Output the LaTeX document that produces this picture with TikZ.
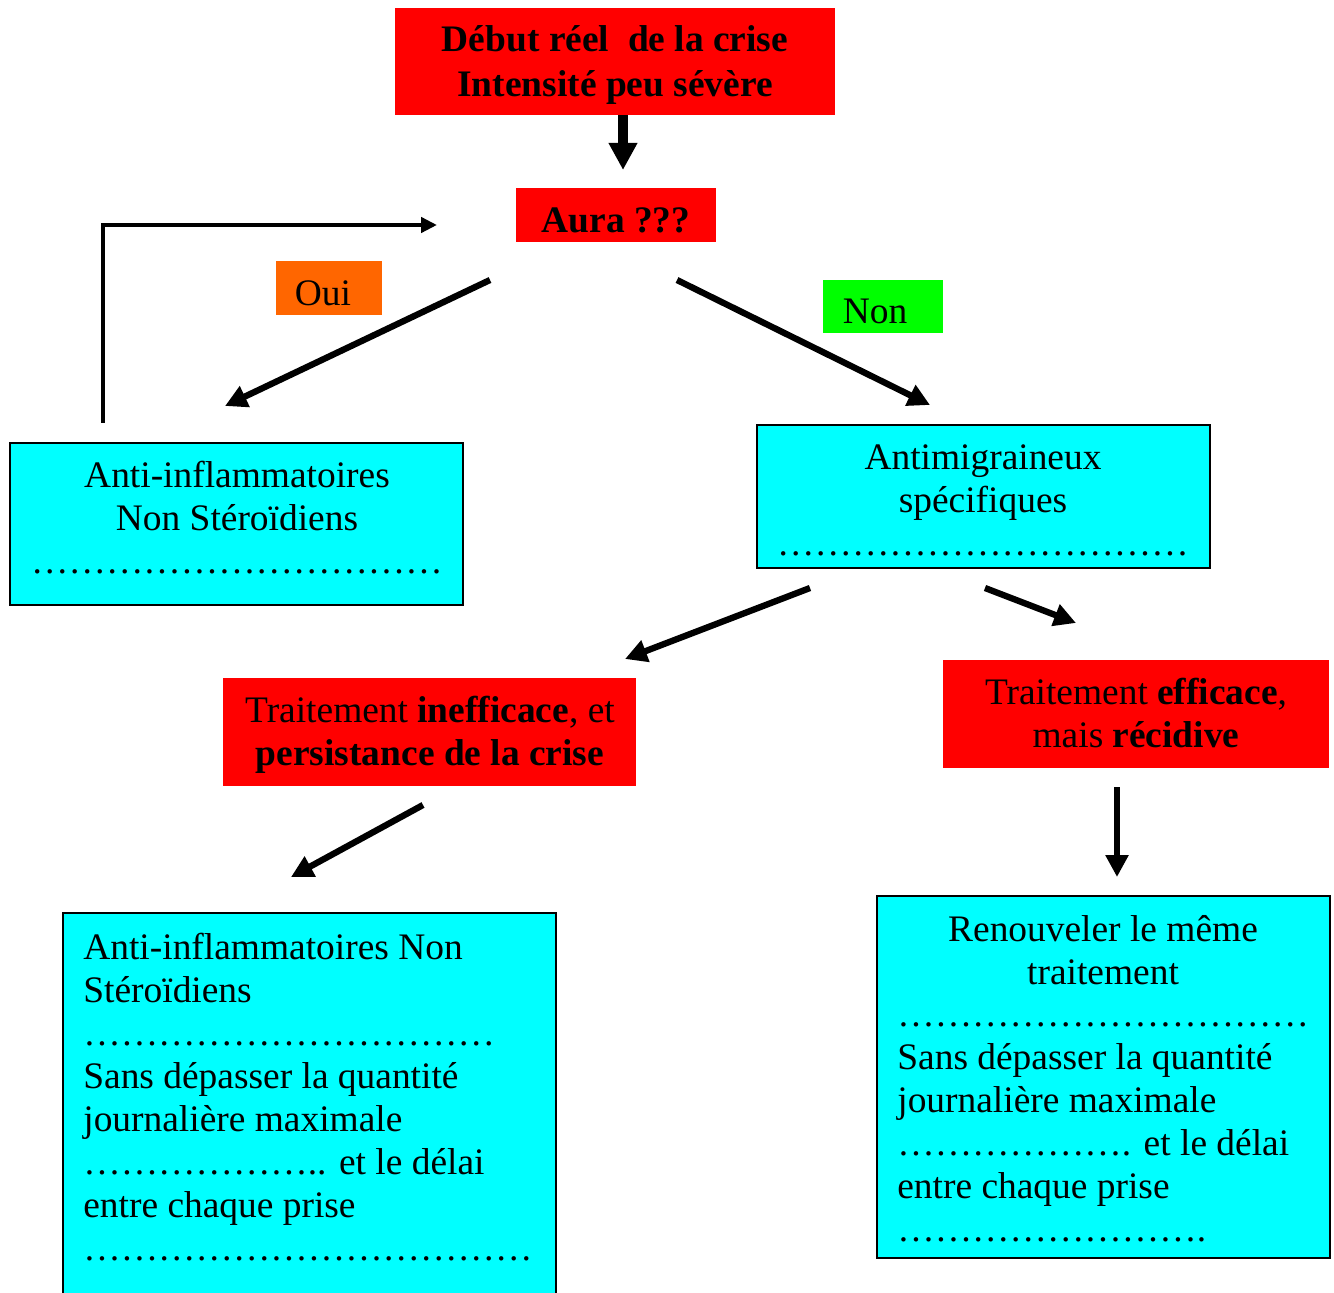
\documentclass[tikz,border=0pt]{standalone}
\usepackage{fontspec}
\setmainfont{Liberation Serif}
\usetikzlibrary{arrows.meta}
\definecolor{boxred}{HTML}{FF0000}
\definecolor{boxcyan}{HTML}{00FFFF}
\definecolor{boxorange}{HTML}{FF6600}
\definecolor{boxgreen}{HTML}{00FF00}
\ExplSyntaxOn
\cs_new:Npn \myell #1 {\prg_replicate:nn {#1} {…}}
\ExplSyntaxOff
\begin{document}
\begin{tikzpicture}[x=0.02cm,y=-0.02cm,
  every node/.style={font=\fontsize{21.3}{24.5}\selectfont, inner sep=0pt},
  redbox/.style={fill=boxred},
  cyanbox/.style={fill=boxcyan, draw=black, line width=1.1pt},
  txt/.style={align=center},
  ltxt/.style={align=left, anchor=west},
  arr/.style={line width=3.6pt, -{Triangle[length=12.5pt,width=12.5pt]}},
  bigarr/.style={line width=5.6pt, -{Triangle[length=15.5pt,width=15.5pt]}},
  thinarr/.style={line width=2.3pt, line join=miter, -{Triangle[length=9pt,width=8.5pt]}},
]
\useasboundingbox (0,0) rectangle (1334,1293);

% boxes
\node[redbox, minimum width=8.8cm, minimum height=2.14cm] (top) at (615,61.5) {};
\node[redbox, minimum width=4cm, minimum height=1.08cm] (aura) at (616,215) {};
\node[fill=boxorange, minimum width=2.12cm, minimum height=1.08cm] (oui) at (329,288) {};
\node[fill=boxgreen, minimum width=2.4cm, minimum height=1.06cm] (non) at (883,306.5) {};
\node[cyanbox, minimum width=9.06cm, minimum height=3.24cm] (ains) at (236.5,524) {};
\node[cyanbox, minimum width=9.06cm, minimum height=2.86cm] (anti) at (983.5,496.5) {};
\node[redbox, minimum width=8.26cm, minimum height=2.16cm] (ineff) at (429.5,732) {};
\node[redbox, minimum width=7.72cm, minimum height=2.16cm] (eff) at (1136,714) {};
\node[cyanbox, minimum width=9.86cm, minimum height=7.94cm] (bl) at (309.5,1111.5) {};
\node[cyanbox, minimum width=9.06cm, minimum height=7.24cm] (br) at (1103.5,1077) {};

% texts
\node[txt] (toptxt) at (615,65) {\bfseries Début réel\ \ de la crise\\[1.5pt]\bfseries Intensité peu sévère};
\node[txt] (auratxt) at (616,220) {\bfseries Aura ???};
\node[txt] (ouitxt) at (323,293) {Oui};
\node[txt] (nontxt) at (875,311) {Non};
\node[txt] (ainstxt) at (237,518) {Anti-inflammatoires\\Non Stéroïdiens\\\myell{11}};
\node[txt] (antitxt) at (983,500) {Antimigraineux\\spécifiques\\\myell{11}};
\node[txt] (inefftxt) at (430,735) {Traitement \textbf{inefficace}, et\\\textbf{persistance de la crise}};
\node[txt] (efftxt) at (1136,713) {Traitement \textbf{efficace},\\mais \textbf{récidive}};
\node[ltxt] (bltxt) at (83,1097) {Anti-inflammatoires Non\\Stéroïdiens\\\myell{11}\\Sans dépasser la quantité\\journalière maximale\\\myell{6}.. et le délai\\entre chaque prise\\\myell{12}};
\node[txt] (brhead) at (1103,950.5) {Renouveler le même\\traitement};
\node[ltxt] (brbody) at (897,1132) {\myell{11}\\Sans dépasser la quantité\\journalière maximale\\\myell{6}. et le délai\\entre chaque prise\\\myell{8}.};

% connector end points
\coordinate (a1s) at (623,115);  \coordinate (a1e) at (623,170);
\coordinate (l1) at (103,423);   \coordinate (l2) at (103,225);  \coordinate (l3) at (437,225);
\coordinate (a2s) at (490,280);  \coordinate (a2e) at (225,406);
\coordinate (a3s) at (677,280);  \coordinate (a3e) at (930,405);
\coordinate (a4s) at (810,588);  \coordinate (a4e) at (625,659);
\coordinate (a5s) at (985,588);  \coordinate (a5e) at (1076,623);
\coordinate (a6s) at (423,805);  \coordinate (a6e) at (291,877);
\coordinate (a7s) at (1117,787); \coordinate (a7e) at (1117,877);

\draw[bigarr] (a1s) -- (a1e);
\draw[thinarr] (l1) -- (l2) -- (l3);
\draw[arr] (a2s) -- (a2e);
\draw[arr] (a3s) -- (a3e);
\draw[arr] (a4s) -- (a4e);
\draw[arr] (a5s) -- (a5e);
\draw[arr] (a6s) -- (a6e);
\draw[arr] (a7s) -- (a7e);
\end{tikzpicture}
\end{document}
